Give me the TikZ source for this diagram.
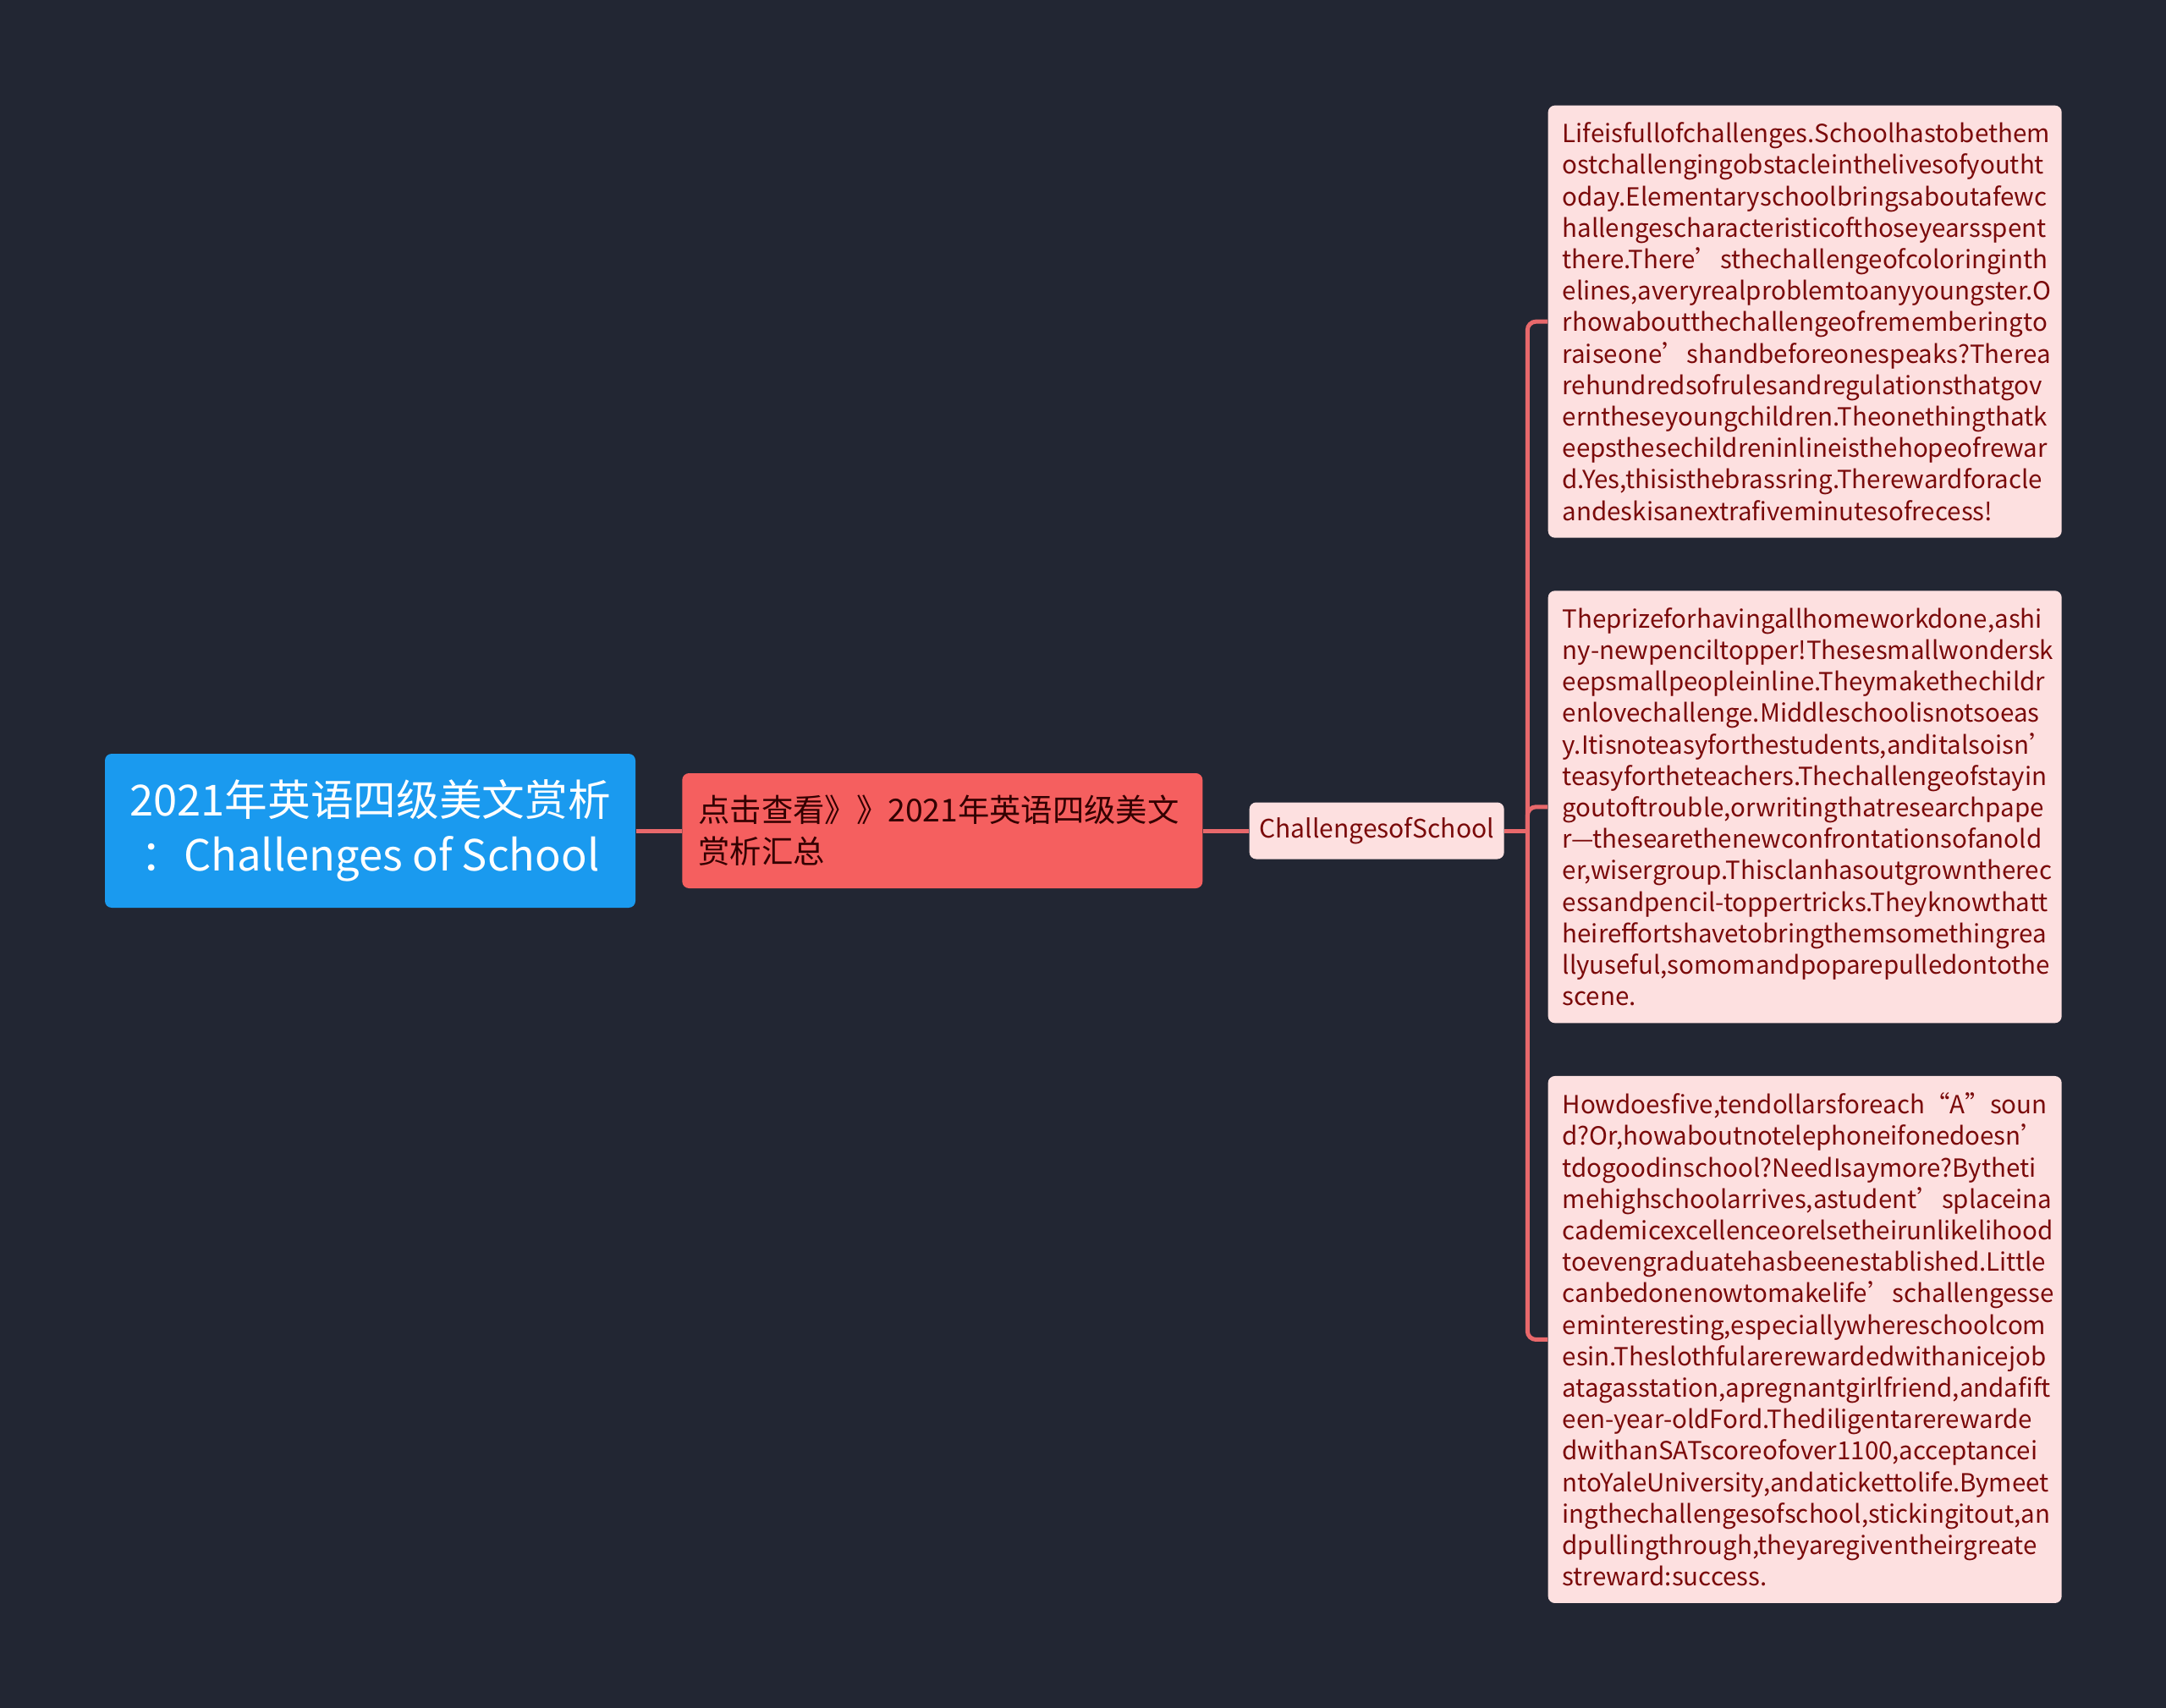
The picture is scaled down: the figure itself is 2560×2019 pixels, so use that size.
\documentclass[tikz,border=0pt]{standalone}
\usepackage{fontspec}
\setmainfont{Noto Sans CJK SC}
\usetikzlibrary{positioning}
\definecolor{bgdark}{HTML}{222633}
\definecolor{rootblue}{HTML}{1A9AEF}
\definecolor{subred}{HTML}{F55F5F}
\definecolor{leafpink}{HTML}{FDE0E0}
\definecolor{leaftext}{HTML}{7A0A0A}
\definecolor{linkred}{HTML}{E8686B}

\begin{document}
\begin{tikzpicture}[x=0.3pt,y=-0.3pt,
    root/.style={fill=rootblue, text=white, rounded corners=2.4pt, minimum width=188.1pt, minimum height=54.6pt, align=center, font=\fontsize{15.2}{19.5}\selectfont},
    sub/.style={fill=subred, text=black!80!red, rounded corners=2.4pt, minimum width=184.5pt, minimum height=40.8pt, inner xsep=5.7pt, text width=173.1pt, align=left, font=\fontsize{11.2}{14.7}\selectfont},
    topic/.style={fill=leafpink, text=leaftext, rounded corners=2.4pt, minimum width=90.3pt, minimum height=20.1pt, inner xsep=2pt, font=\fontsize{9}{11}\selectfont},
    leaf/.style={fill=leafpink, text=leaftext, rounded corners=2.4pt, minimum width=182.1pt, inner xsep=5.1pt, inner ysep=2pt, text width=171.9pt, align=left, font=\fontsize{8.85}{11.16}\selectfont},
    link/.style={draw=linkred, line width=1.5pt, rounded corners=3pt}
]
    \fill[bgdark] (0,0) rectangle (2560,2019);

    \node[root] (title) at (437.5,982) {2021年英语四级美文赏析\\：Challenges of School};
    \node[sub, right=16.2pt of title] (summary) {点击查看》》2021年英语四级美文\\赏析汇总};
    \node[topic, right=16.2pt of summary] (school) {ChallengesofSchool};

    \node[leaf, anchor=north west, minimum height=153.3pt] (life) at (1829,124) {Lifeisfullofchallenges.Schoolhastobethem\\ostchallengingobstacleinthelivesofyoutht\\oday.Elementaryschoolbringsaboutafewc\\hallengescharacteristicofthoseyearsspent\\there.There’sthechallengeofcoloringinth\\elines,averyrealproblemtoanyyoungster.O\\rhowaboutthechallengeofrememberingto\\raiseone’shandbeforeonespeaks?Therea\\rehundredsofrulesandregulationsthatgov\\erntheseyoungchildren.Theonethingthatk\\eepsthesechildreninlineisthehopeofrewar\\d.Yes,thisisthebrassring.Therewardforacle\\andeskisanextrafiveminutesofrecess!};
    \node[leaf, below=18.4pt of life, minimum height=153.3pt] (prize) {Theprizeforhavingallhomeworkdone,ashi\\\mbox{ny-newpenciltopper!Thesesmallwondersk}\\eepsmallpeopleinline.Theymakethechildr\\enlovechallenge.Middleschoolisnotsoeas\\y.Itisnoteasyforthestudents,anditalsoisn’\\teasyfortheteachers.Thechallengeofstayin\\goutoftrouble,orwritingthatresearchpape\\\mbox{r—thesearethenewconfrontationsofanold}\\er,wisergroup.Thisclanhasoutgrowntherec\\\mbox{essandpencil-toppertricks.Theyknowthatt}\\heireffortshavetobringthemsomethingrea\\llyuseful,somomandpoparepulledontothe\\scene.};
    \node[leaf, below=18.4pt of prize, minimum height=186.9pt] (reward) {Howdoesfive,tendollarsforeach“A”soun\\d?Or,howaboutnotelephoneifonedoesn’\\tdogoodinschool?NeedIsaymore?Bytheti\\mehighschoolarrives,astudent’splaceina\\cademicexcellenceorelsetheirunlikelihood\\toevengraduatehasbeenestablished.Little\\canbedonenowtomakelife’schallengesse\\eminteresting,especiallywhereschoolcom\\esin.Theslothfularerewardedwithanicejob\\atagasstation,apregnantgirlfriend,andafift\\\mbox{een-year-oldFord.Thediligentarerewarde}\\dwithanSATscoreofover1100,acceptancei\\ntoYaleUniversity,andatickettolife.Bymeet\\ingthechallengesofschool,stickingitout,an\\dpullingthrough,theyaregiventheirgreate\\streward:success.};

    % connectors
    \draw[link] (title.east) -- (summary.west);
    \draw[link] (summary.east) -- (school.west);
    \coordinate (fork) at ([xshift=8.1pt]school.east);
    \draw[link] (school.east) -- (fork);
    \draw[link] (fork) |- (life.west);
    \draw[link] (fork) |- (prize.west);
    \draw[link] (fork) |- (reward.west);
\end{tikzpicture}
\end{document}
